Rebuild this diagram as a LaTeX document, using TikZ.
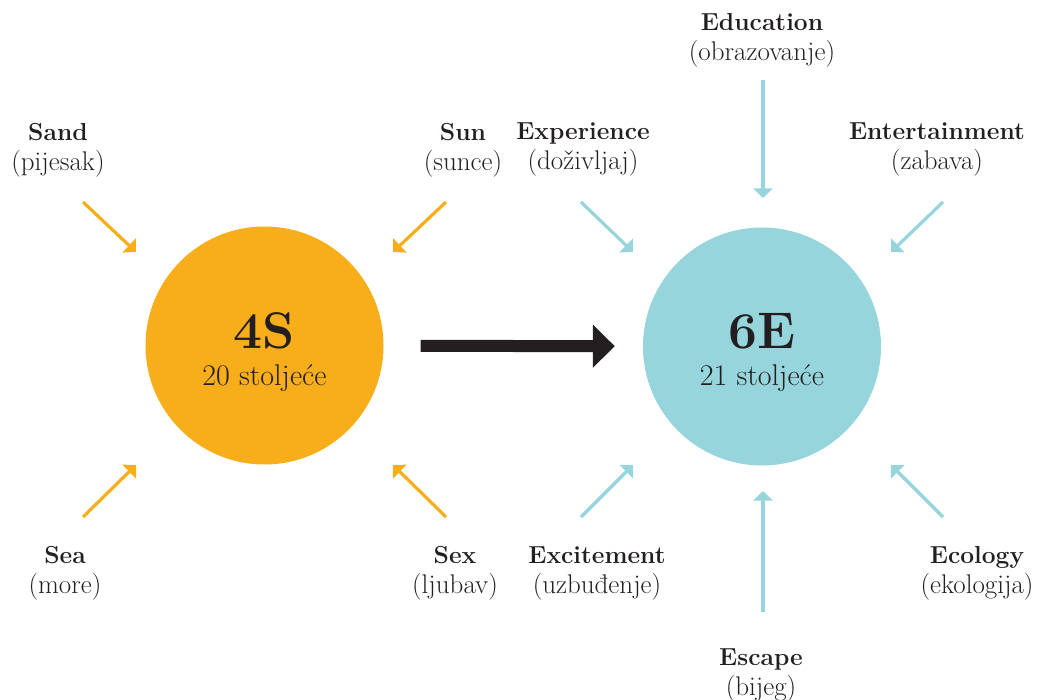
\documentclass[tikz,border=0pt]{standalone}
\usepackage{fontspec}
\usetikzlibrary{arrows.meta}
\definecolor{sorange}{HTML}{F8AE1B}
\definecolor{eteal}{HTML}{95D5DB}
\definecolor{ink}{HTML}{231F20}
\newcommand{\lbl}[2]{\textbf{#1}\\{\fontsize{27}{30}\selectfont #2}}
\begin{document}
\begin{tikzpicture}[x=1pt,y=-1pt,
    lbl/.style={align=center,inner sep=0pt,text=ink,font=\fontsize{24.6}{30}\selectfont},
    big/.style={circle,minimum size=238pt,inner sep=0pt},
    head/.style={anchor=base,inner sep=0pt,text=ink,font=\bfseries\fontsize{51.5}{52}\selectfont},
    sub/.style={anchor=base,inner sep=0pt,text=ink,font=\fontsize{30}{32}\selectfont},
    sarr/.style={sorange,line width=3.2pt,-{Triangle[angle=90:13.5pt]}},
    earr/.style={eteal,line width=3.2pt,-{Triangle[angle=90:13.5pt]}}]
    \useasboundingbox (0,0) rectangle (1039,700);
    % circles
    \node[big,fill=sorange](4s)at(264.5,345.5) {};
    \node[big,fill=eteal](6e)at(762,346.5) {};
    \node[head](4st)at(264.5,349) {4S};
    \node[sub](4ss)at(264.5,386) {20 stoljeće};
    \node[head](6et)at(762,349) {6E};
    \node[sub](6es)at(762,386) {21 stoljeće};

    \draw[ink,line width=12pt,-{Triangle[length=22pt,width=42pt]},shorten <=37pt,shorten >=28pt](4s) -- (6e);

    % 4S labels
    \node[lbl](sand)at(58,150) {\lbl{Sand}{(pijesak)}};
    \node[lbl](sun)at(463,150) {\lbl{Sun}{(sunce)}};
    \node[lbl](sea)at(65,573) {\lbl{Sea}{(more)}};
    \node[lbl](sex)at(455,573) {\lbl{Sex}{(ljubav)}};

    % 6E labels
    \node[lbl](edu)at(762,40) {\lbl{Education}{(obrazovanje)}};
    \node[lbl](exp)at(583,150) {\lbl{Experience}{(doživljaj)}};
    \node[lbl](ent)at(937,150) {\lbl{Entertainment}{(zabava)}};
    \node[lbl](exc)at(597,573) {\lbl{Excitement}{(uzbuđenje)}};
    \node[lbl](eco)at(977,573) {\lbl{Ecology}{(ekologija)}};
    \node[lbl](esc)at(761,675) {\lbl{Escape}{(bijeg)}};

    % arrow ends
    \coordinate (sand1)at(83,202); \coordinate (sand2)at(136,252);
    \coordinate (sun1)at(446,202); \coordinate (sun2)at(393,252);
    \coordinate (sea1)at(83,517); \coordinate (sea2)at(136,465);
    \coordinate (sex1)at(446,517); \coordinate (sex2)at(393,465);
    \coordinate (edu1)at(763,80); \coordinate (edu2)at(763,198);
    \coordinate (exp1)at(581,202); \coordinate (exp2)at(633,252);
    \coordinate (ent1)at(943,202); \coordinate (ent2)at(891,252);
    \coordinate (exc1)at(581,517); \coordinate (exc2)at(633,465);
    \coordinate (eco1)at(943,517); \coordinate (eco2)at(891,465);
    \coordinate (esc1)at(763,612); \coordinate (esc2)at(763,491);

    \draw[sarr](sand1) -- (sand2);
    \draw[sarr](sun1) -- (sun2);
    \draw[sarr](sea1) -- (sea2);
    \draw[sarr](sex1) -- (sex2);
    \draw[earr](edu1) -- (edu2);
    \draw[earr](exp1) -- (exp2);
    \draw[earr](ent1) -- (ent2);
    \draw[earr](exc1) -- (exc2);
    \draw[earr](eco1) -- (eco2);
    \draw[earr](esc1) -- (esc2);
\end{tikzpicture}
\end{document}
